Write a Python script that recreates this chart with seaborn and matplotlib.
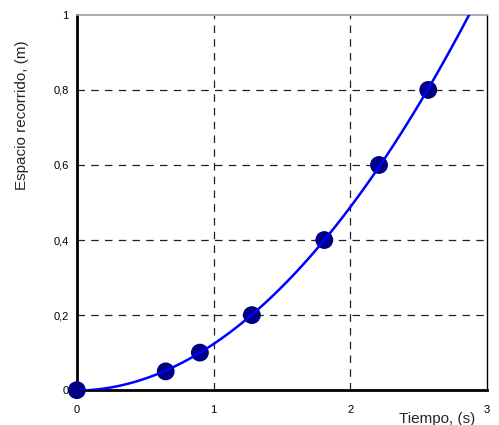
import numpy as np
import pandas as pd
import seaborn as sns
import matplotlib.pyplot as plt
from matplotlib.ticker import FuncFormatter

# measured points: time (s) and distance travelled (m)
tiempo = [0.0, 0.65, 0.90, 1.28, 1.81, 2.21, 2.57]
espacio = [0.0, 0.05, 0.10, 0.20, 0.40, 0.60, 0.80]
x_ticks = [0, 1, 2, 3]
y_ticks = [0, 0.2, 0.4, 0.6, 0.8, 1]

df = pd.DataFrame({"tiempo": tiempo, "espacio": espacio})

sns.set_style("white")
plt.rcParams['font.family'] = ['Liberation Sans', 'DejaVu Sans']

fig = plt.figure(figsize=(4.99, 4.25), dpi=100)
ax = fig.add_axes([0.154, 0.082, 0.822, 0.883])
ax.set_xlim(0, 3)
ax.set_ylim(0, 1)

# dashed grid
for v in [1, 2]:
    ax.axvline(v, color="#202020", lw=0.9, ls=(0, (6, 5)), zorder=0)
for v in [0.2, 0.4, 0.6, 0.8]:
    ax.axhline(v, color="#202020", lw=0.9, ls=(0, (6, 5)), zorder=0)

# points plus quadratic trend line
sns.regplot(x="tiempo", y="espacio", data=df, order=2, ci=None, truncate=False,
            ax=ax,
            scatter_kws={"s": 165, "color": "#000080", "alpha": 1, "clip_on": False,
                         "edgecolors": "none", "zorder": 3},
            line_kws={"color": "#0000FF", "lw": 1.8, "zorder": 4})
ax.set_xlim(0, 3)
ax.set_ylim(0, 1)

ax.set_xticks(x_ticks)
ax.set_yticks(y_ticks)
comma = FuncFormatter(lambda v, p: f"{v:g}".replace(".", ","))
ax.xaxis.set_major_formatter(comma)
ax.yaxis.set_major_formatter(comma)
ax.tick_params(axis="both", labelsize=8, length=3, width=1.2, colors="black",
               direction="out", pad=8)
ax.tick_params(axis="y", pad=3)

for side in ["left", "bottom"]:
    ax.spines[side].set_linewidth(2)
    ax.spines[side].set_color("black")
ax.spines["right"].set_linewidth(1)
ax.spines["right"].set_color("black")
ax.spines["top"].set_linewidth(1.2)
ax.spines["top"].set_color("#a0a0a0")

ax.set_xlabel("Tiempo, (s)", fontsize=11)
ax.set_ylabel("Espacio recorrido, (m)", fontsize=11)
ax.xaxis.set_label_coords(0.878, -0.058)
ax.yaxis.set_label_coords(-0.117, 0.733)

fig.savefig("out.png", dpi=100)
